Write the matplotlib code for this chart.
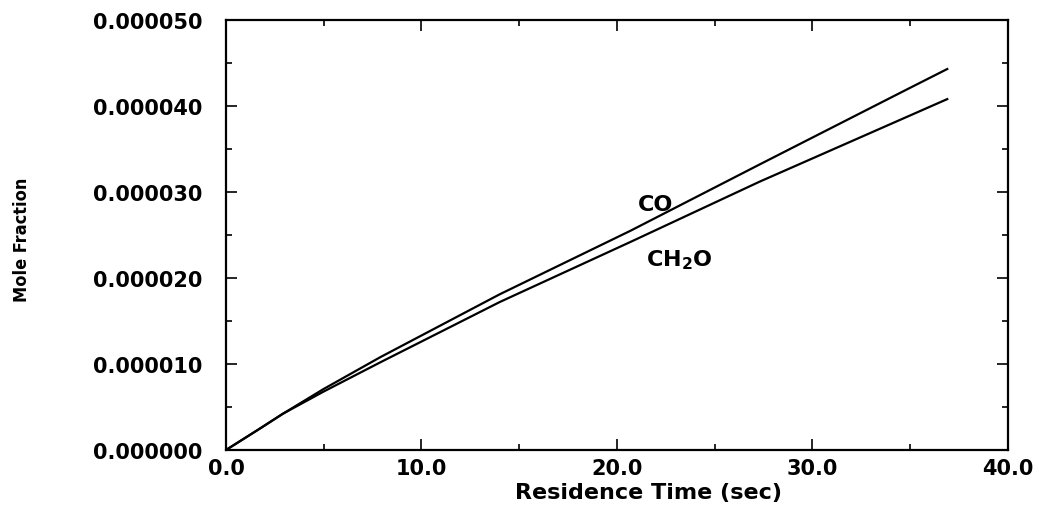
import matplotlib
matplotlib.use('Agg')
from matplotlib import pyplot as plt
from matplotlib.ticker import MultipleLocator, FormatStrFormatter

# Residence time (sec) and mole fractions
time_sec = [0.0, 1.7, 2.9, 5.0, 7.9, 14.0, 20.7, 27.3, 34.9, 36.9]
co_frac = [0.0, 0.244e-5, 0.42e-5, 0.71e-5, 1.08e-5, 1.81e-5, 2.55e-5,
           3.32e-5, 4.20e-5, 4.43e-5]
ch2o_frac = [0.0, 0.244e-5, 0.42e-5, 0.68e-5, 1.02e-5, 1.72e-5, 2.42e-5,
             3.12e-5, 3.88e-5, 4.08e-5]

x_ticks = [0.0, 10.0, 20.0, 30.0, 40.0]
y_ticks = [0.0, 1e-5, 2e-5, 3e-5, 4e-5, 5e-5]

fig = plt.figure(dpi=100, figsize=(10.39, 5.06))
ax = fig.add_axes([0.2175, 0.1087, 0.7525, 0.8498])

ax.plot(time_sec, co_frac, c='black', lw=1.6)
ax.plot(time_sec, ch2o_frac, c='black', lw=1.6)

lab_font = dict(family='DejaVu Sans', weight='bold', fontsize=16)
ax.text(22.0, 2.86e-5, 'CO', ha='center', va='center', **lab_font)
ax.text(23.2, 2.22e-5, r'CH$_\mathbf{2}$O', ha='center', va='center', **lab_font)

# Format plot
ax.set_xlim(0, 40)
ax.set_ylim(0, 5e-5)
ax.set_xticks(x_ticks)
ax.set_yticks(y_ticks)
ax.xaxis.set_minor_locator(MultipleLocator(5))
ax.yaxis.set_minor_locator(MultipleLocator(5e-6))
ax.xaxis.set_major_formatter(FormatStrFormatter('%.1f'))
ax.yaxis.set_major_formatter(FormatStrFormatter('%.6f'))
ax.tick_params(which='both', direction='in', top=True, right=True, width=1.2)
ax.tick_params(which='major', length=8)
ax.tick_params(which='minor', length=4)
ax.tick_params(axis='x', pad=6)
ax.tick_params(axis='y', pad=17)
for lbl in ax.get_xticklabels() + ax.get_yticklabels():
    lbl.set_family('DejaVu Sans')
    lbl.set_weight('bold')
    lbl.set_fontsize(15)
for s in ax.spines.values():
    s.set_linewidth(1.6)

fig.text(0.624, 0.026, 'Residence Time (sec)', ha='center', va='center',
         family='DejaVu Sans', weight='bold', fontsize=16)
fig.text(0.021, 0.526, 'Mole Fraction', ha='center', va='center', rotation=90,
         family='DejaVu Sans', stretch='condensed', weight='bold', fontsize=13)

plt.savefig('out.png', dpi=100)
